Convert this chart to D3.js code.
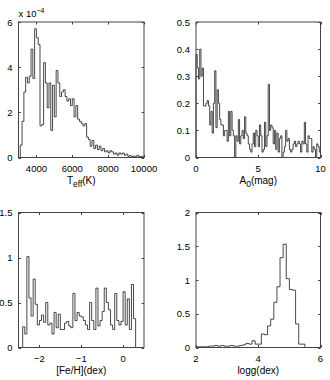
<!DOCTYPE html>
<html lang="en">
  <head>
    <meta charset="UTF-8" />
    <title>histograms</title>
    <script src="https://cdn.jsdelivr.net/npm/d3@7"></script>
    <style>
      body { margin: 0; background: #fff; }
      svg { display: block; font-family: "Liberation Sans", Arial, sans-serif; }
    </style>
  </head>
  <body>
    <svg width="330" height="380"></svg>
    <script>
      // Teff histogram, 100 K bins from 3100 K, values in units of 1e-4
      const teffStart = 3100, teffStep = 100;
      const teffValues = [
        0.55, 1.6, 2.9, 3.55, 3.3, 3.6, 4.8, 3.5, 5.7, 5.3,
        5.0, 1.4, 1.45, 4.2, 3.3, 2.2, 3.3, 1.2, 3.2, 1.8,
        3.85, 3.3, 2.7, 2.9, 3.0, 2.7, 2.5, 2.6, 2.3, 2.6,
        1.8, 2.3, 1.7, 1.6, 1.5, 1.4, 1.5, 0.9, 0.8, 0.5,
        0.75, 0.4, 0.55, 0.35, 0.5, 0.3, 0.4, 0.25, 0.3, 0.2,
        0.3, 0.25, 0.15, 0.2, 0.1, 0.2, 0.15, 0.2, 0.1, 0.15,
        0.05, 0.08, 0.04, 0.06, 0.03, 0.1, 0.04, 0.05, 0.03
      ];
      // A0 histogram, 0.1 mag bins from 0
      const a0Start = 0, a0Step = 0.1;
      const a0Values = [
        0.38, 0.33, 0.29, 0.40, 0.30, 0.33, 0.19, 0.19, 0.20, 0.21,
        0.19, 0.12, 0.17, 0.09, 0.20, 0.32, 0.11, 0.25, 0.20, 0.14,
        0.12, 0.12, 0.08, 0.10, 0.10, 0.06, 0.17, 0.08, 0.17, 0.10,
        0.08, 0.0, 0.08, 0.06, 0.14, 0.05, 0.08, 0.10, 0.07, 0.15,
        0.09, 0.08, 0.05, 0.03, 0.02, 0.05, 0.09, 0.04, 0.10, 0.08,
        0.04, 0.12, 0.08, 0.02, 0.03, 0.13, 0.04, 0.08, 0.27, 0.10,
        0.12, 0.11, 0.05, 0.10, 0.03, 0.09, 0.02, 0.07, 0.08, 0.0,
        0.02, 0.04, 0.10, 0.06, 0.07, 0.03, 0.02, 0.03, 0.05, 0.06,
        0.04, 0.05, 0.06, 0.05, 0.02, 0.06, 0.05, 0.13, 0.05, 0.02,
        0.08, 0.07, 0.07, 0.02, 0.04, 0.03, 0.0, 0.05, 0.04, 0.02
      ];
      // [Fe/H] histogram, 0.05 dex bins from -2.4
      const fehStart = -2.4, fehStep = 0.05;
      const fehValues = [
        0.23, 0.15, 1.01, 0.55, 0.35, 0.76, 0.48, 0.25, 0.30, 0.36,
        0.28, 0.50, 0.25, 0.27, 0.15, 0.39, 0.22, 0.37, 0.20, 0.20,
        0.27, 0.29, 0.24, 0.22, 0.60, 0.30, 0.39, 0.35, 0.34, 0.30,
        0.25, 0.20, 0.50, 0.30, 0.20, 0.66, 0.24, 0.30, 0.40, 0.66,
        0.50, 0.42, 0.25, 0.20, 0.60, 0.30, 0.25, 0.29, 0.62, 0.25,
        0.54, 0.20, 0.70, 0.32
      ];
      // logg histogram, 0.1 dex bins from 2.0
      const loggStart = 2.0, loggStep = 0.1;
      const loggValues = [
        0.01, 0.01, 0.01, 0.01, 0.02, 0.02, 0.03, 0.02, 0.03, 0.02,
        0.02, 0.03, 0.02, 0.02, 0.03, 0.04, 0.06, 0.05, 0.10, 0.05,
        0.05, 0.20, 0.19, 0.32, 0.42, 0.67, 0.90, 1.33, 1.53, 1.02,
        0.86, 0.85, 0.35, 0.05, 0.05
      ];

      const svg = d3.select("svg");
      const fontSize = 9.5;
      const labelSize = 10;

      function drawPanel(p) {
        const x = d3.scaleLinear().domain(p.xDomain).range([p.left, p.right]);
        const y = d3.scaleLinear().domain(p.yDomain).range([p.bottom, p.top]);
        const g = svg.append("g");

        // stairs outline
        const pts = [[p.start, 0]];
        p.values.forEach((v, i) => {
          pts.push([p.start + i * p.step, v]);
          pts.push([p.start + (i + 1) * p.step, v]);
        });
        pts.push([p.start + p.values.length * p.step, 0]);
        g.append("path")
          .attr("d", d3.line().x(d => x(d[0])).y(d => y(d[1]))(pts))
          .attr("fill", "none")
          .attr("stroke", "#1a1a1a")
          .attr("stroke-width", 0.8);

        const tl = 2.5;
        // box
        g.append("rect")
          .attr("x", p.left).attr("y", p.top)
          .attr("width", p.right - p.left).attr("height", p.bottom - p.top)
          .attr("fill", "none").attr("stroke", "#444").attr("stroke-width", 1);

        // inward ticks
        p.xTicks.forEach(t => {
          const xx = Math.round(x(t)) + 0.5;
          g.append("line").attr("x1", xx).attr("x2", xx).attr("y1", p.bottom).attr("y2", p.bottom - tl).attr("stroke", "#444");
          g.append("line").attr("x1", xx).attr("x2", xx).attr("y1", p.top).attr("y2", p.top + tl).attr("stroke", "#444");
          g.append("text").attr("x", x(t)).attr("y", p.bottom + 14.5)
            .attr("text-anchor", "middle").attr("font-size", fontSize).attr("fill", "#000")
            .text(d3.format("")(t));
        });
        p.yTicks.forEach(t => {
          const yy = Math.round(y(t)) + 0.5;
          g.append("line").attr("x1", p.left).attr("x2", p.left + tl).attr("y1", yy).attr("y2", yy).attr("stroke", "#444");
          g.append("line").attr("x1", p.right).attr("x2", p.right - tl).attr("y1", yy).attr("y2", yy).attr("stroke", "#444");
          g.append("text").attr("x", p.left - 6).attr("y", y(t) + 3.5)
            .attr("text-anchor", "end").attr("font-size", fontSize).attr("fill", "#000")
            .text(t);
        });

        // axis label
        const lab = g.append("text")
          .attr("x", (p.left + p.right) / 2).attr("y", p.bottom + 26)
          .attr("text-anchor", "middle").attr("font-size", labelSize).attr("fill", "#000");
        lab.append("tspan").text(p.label[0]);
        if (p.label[1]) {
          lab.append("tspan").attr("dy", 3).attr("font-size", 8.5).text(p.label[1]);
          lab.append("tspan").attr("dy", -3).text(p.label[2]);
        }
      }

      const leftL = 18.5, leftR = 144, rightL = 196, rightR = 320.5;
      const row1Top = 22, row1Bot = 157.5, row2Top = 212.5, row2Bot = 347.5;

      drawPanel({
        left: leftL, right: leftR, top: row1Top, bottom: row1Bot,
        xDomain: [3000, 10000], yDomain: [0, 6],
        xTicks: [4000, 6000, 8000, 10000], yTicks: [0, 2, 4, 6],
        start: teffStart, step: teffStep, values: teffValues,
        label: ["T", "eff", "(K)"]
      });
      drawPanel({
        left: rightL, right: rightR, top: row1Top, bottom: row1Bot,
        xDomain: [0, 10], yDomain: [0, 0.5],
        xTicks: [0, 5, 10], yTicks: [0, 0.1, 0.2, 0.3, 0.4, 0.5],
        start: a0Start, step: a0Step, values: a0Values,
        label: ["A", "0", "(mag)"]
      });
      drawPanel({
        left: leftL, right: leftR, top: row2Top, bottom: row2Bot,
        xDomain: [-2.5, 0.5], yDomain: [0, 1.5],
        xTicks: [-2, -1, 0], yTicks: [0, 0.5, 1, 1.5],
        start: fehStart, step: fehStep, values: fehValues,
        label: ["[Fe/H](dex)"]
      });
      drawPanel({
        left: rightL, right: rightR, top: row2Top, bottom: row2Bot,
        xDomain: [2, 6], yDomain: [0, 2],
        xTicks: [2, 4, 6], yTicks: [0, 0.5, 1, 1.5, 2],
        start: loggStart, step: loggStep, values: loggValues,
        label: ["logg(dex)"]
      });

      // exponent label for Teff panel
      const ex = svg.append("text").attr("x", leftL).attr("y", 17)
        .attr("font-size", fontSize).attr("fill", "#000");
      ex.append("tspan").text("x 10");
      ex.append("tspan").attr("dy", -4).attr("font-size", 7).text("−4");
    </script>
  </body>
</html>
